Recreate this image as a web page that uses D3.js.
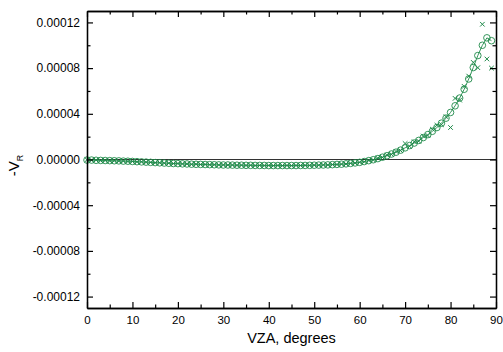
<!DOCTYPE html>
<html>
<head>
<meta charset="utf-8">
<title>-V_R vs VZA</title>
<script src="https://d3js.org/d3.v7.min.js"></script>
<style>
  body { margin: 0; background: #fff; }
  text { font-family: "Liberation Sans", Arial, Helvetica, sans-serif; }
</style>
</head>
<body>
<script>

// view zenith angle, degrees
var vza = [0,1,2,3,4,5,6,7,8,9,10,11,12,13,14,15,16,17,18,19,
           20,21,22,23,24,25,26,27,28,29,30,31,32,33,34,35,36,37,38,39,
           40,41,42,43,44,45,46,47,48,49,50,51,52,53,54,55,56,57,58,59,
           60,61,62,63,64,65,66,67,68,69,70,71,72,73,74,75,76,77,78,79,
           80,81,82,83,84,85,86,87,88,89];

// -V_R, in units of 1e-5 (open circles + line)
var circleVals = [-0.05,-0.05,-0.07,-0.08,-0.09,-0.10,-0.11,-0.12,-0.14,-0.15,
                  -0.17,-0.19,-0.21,-0.23,-0.25,-0.27,-0.29,-0.31,-0.33,-0.35,
                  -0.36,-0.38,-0.39,-0.41,-0.42,-0.43,-0.44,-0.45,-0.46,-0.47,
                  -0.48,-0.48,-0.49,-0.50,-0.50,-0.51,-0.51,-0.52,-0.52,-0.52,
                  -0.53,-0.53,-0.53,-0.53,-0.53,-0.53,-0.53,-0.52,-0.52,-0.51,
                  -0.50,-0.49,-0.48,-0.47,-0.45,-0.43,-0.41,-0.38,-0.34,-0.30,
                  -0.25,-0.18,-0.10,-0.02,0.08,0.20,0.33,0.48,0.64,0.82,
                  1.02,1.22,1.44,1.67,1.92,2.18,2.47,2.80,3.18,3.62,
                  4.12,4.70,5.38,6.15,7.05,8.05,9.10,10.00,10.65,10.40];

// -V_R, in units of 1e-5 (crosses)
var crossVals = [-0.02,-0.06,-0.05,-0.10,-0.08,-0.12,-0.10,-0.14,-0.13,-0.17,
                 -0.16,-0.20,-0.20,-0.24,-0.24,-0.28,-0.28,-0.32,-0.32,-0.36,
                 -0.35,-0.39,-0.38,-0.42,-0.41,-0.44,-0.43,-0.46,-0.45,-0.48,
                 -0.47,-0.49,-0.48,-0.51,-0.49,-0.52,-0.50,-0.53,-0.51,-0.53,
                 -0.52,-0.54,-0.52,-0.54,-0.52,-0.54,-0.52,-0.53,-0.51,-0.52,
                 -0.49,-0.50,-0.47,-0.48,-0.44,-0.44,-0.40,-0.39,-0.33,-0.31,
                 -0.24,-0.20,-0.08,-0.04,0.12,0.18,0.38,0.45,0.70,0.78,
                 1.40,1.15,1.55,1.60,2.05,2.10,2.65,3.00,3.05,3.75,
                 2.80,5.35,5.20,6.40,7.30,8.50,8.04,11.84,8.80,8.00];

var UNIT = 1e-5;

var xMajor = [0,10,20,30,40,50,60,70,80,90];
var xMinor = [5,15,25,35,45,55,65,75,85];
var yMajor = [-0.00012,-0.00008,-0.00004,0,0.00004,0.00008,0.00012];
var yMinor = [-0.00010,-0.00006,-0.00002,0.00002,0.00006,0.00010];

var W = 503, H = 352;
var margin = { top: 11, right: 7, bottom: 44, left: 87 },
    width = W - margin.left - margin.right,
    height = H - margin.top - margin.bottom;

var green = "#1f8a4a";

var svg = d3.select("body").append("svg")
    .attr("width", W)
    .attr("height", H);

var x = d3.scaleLinear().domain([0, 90]).range([0, width]);
var y = d3.scaleLinear().domain([-0.00013, 0.00013]).range([height, 0]);

var g = svg.append("g")
    .attr("transform", "translate(" + margin.left + "," + margin.top + ")");

var fmt = function(v) { return v.toFixed(5); };

// zero line
g.append("line")
    .attr("x1", 0).attr("x2", width)
    .attr("y1", y(0)).attr("y2", y(0))
    .attr("stroke", "#333").attr("stroke-width", 1);

// data
var pts = vza.map(function(a, i) { return { a: a, v: circleVals[i] * UNIT }; });
var xs = vza.map(function(a, i) { return { a: a, v: crossVals[i] * UNIT }; });

g.append("path")
    .datum(pts)
    .attr("fill", "none")
    .attr("stroke", green)
    .attr("stroke-width", 0.9)
    .attr("d", d3.line().x(function(d) { return x(d.a); }).y(function(d) { return y(d.v); }));

g.selectAll(".cross")
    .data(xs)
    .enter()
    .append("path")
    .attr("class", "cross")
    .attr("transform", function(d) { return "translate(" + x(d.a) + "," + y(d.v) + ")"; })
    .attr("d", "M-2.3,-2.3L2.3,2.3M-2.3,2.3L2.3,-2.3")
    .attr("stroke", green)
    .attr("stroke-width", 1);

g.selectAll(".circ")
    .data(pts)
    .enter()
    .append("circle")
    .attr("class", "circ")
    .attr("cx", function(d) { return x(d.a); })
    .attr("cy", function(d) { return y(d.v); })
    .attr("r", 3.3)
    .attr("fill", "none")
    .attr("stroke", green)
    .attr("stroke-width", 0.9);

// axes, ticks pointing inward
function styleAxis(sel) {
    sel.select(".domain").attr("stroke", "#000").attr("stroke-width", 1.3);
    sel.selectAll(".tick line").attr("stroke", "#000").attr("stroke-width", 1.2);
    sel.selectAll("text").attr("fill", "#000");
}

var bottom = g.append("g")
    .attr("transform", "translate(0," + height + ")")
    .call(d3.axisBottom(x).tickValues(xMajor).tickSize(-6).tickSizeOuter(0).tickPadding(8))
    .style("font-size", "11.5px");
bottom.call(styleAxis);
bottom.selectAll("text").style("font-family", "Liberation Sans, Arial, sans-serif");

g.append("g")
    .attr("transform", "translate(0," + height + ")")
    .call(d3.axisBottom(x).tickValues(xMinor).tickSize(-3.5).tickSizeOuter(0).tickFormat(""))
    .call(styleAxis);

g.append("g")
    .call(d3.axisTop(x).tickValues(xMajor).tickSize(-6).tickSizeOuter(0).tickFormat(""))
    .call(styleAxis);
g.append("g")
    .call(d3.axisTop(x).tickValues(xMinor).tickSize(-3.5).tickSizeOuter(0).tickFormat(""))
    .call(styleAxis);

var left = g.append("g")
    .call(d3.axisLeft(y).tickValues(yMajor).tickSize(-6).tickSizeOuter(0).tickPadding(7).tickFormat(fmt))
    .style("font-size", "12px");
left.call(styleAxis);
left.selectAll("text").style("font-family", "Liberation Sans, Arial, sans-serif");

g.append("g")
    .call(d3.axisLeft(y).tickValues(yMinor).tickSize(-3.5).tickSizeOuter(0).tickFormat(""))
    .call(styleAxis);

g.append("g")
    .attr("transform", "translate(" + width + ",0)")
    .call(d3.axisRight(y).tickValues(yMajor).tickSize(-6).tickSizeOuter(0).tickFormat(""))
    .call(styleAxis);
g.append("g")
    .attr("transform", "translate(" + width + ",0)")
    .call(d3.axisRight(y).tickValues(yMinor).tickSize(-3.5).tickSizeOuter(0).tickFormat(""))
    .call(styleAxis);

// axis titles
svg.append("text")
    .attr("x", margin.left + width / 2)
    .attr("y", 343)
    .attr("text-anchor", "middle")
    .style("font-size", "14.5px")
    .text("VZA, degrees");

var yt = svg.append("text")
    .attr("transform", "translate(19," + (margin.top + y(0) + 6) + ") rotate(-90)")
    .attr("text-anchor", "middle")
    .style("font-size", "15px");
yt.append("tspan").text("-V");
yt.append("tspan").attr("dy", 4).style("font-size", "9px").text("R");

</script>
</body>
</html>
